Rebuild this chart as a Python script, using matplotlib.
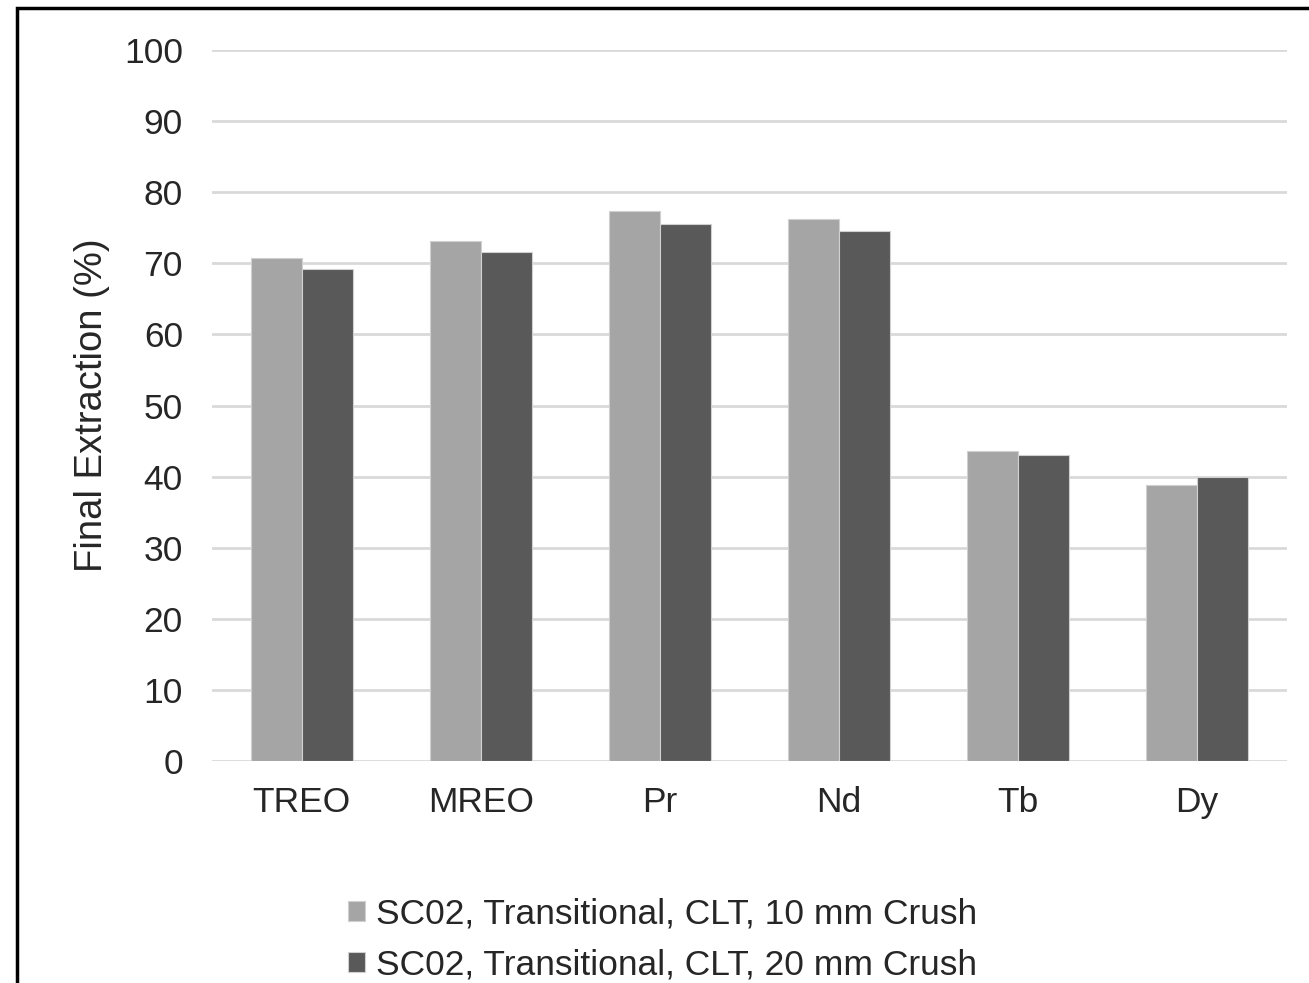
import matplotlib.pyplot as plt
import numpy as np
from matplotlib.patches import Rectangle

plt.rcParams['font.family'] = ['Liberation Sans', 'DejaVu Sans']

categories = ["TREO", "MREO", "Pr", "Nd", "Tb", "Dy"]
crush_10mm = [70.7, 73.2, 77.4, 76.3, 43.6, 38.8]
crush_20mm = [69.2, 71.6, 75.6, 74.5, 43.0, 39.9]
labels = ["SC02, Transitional, CLT, 10 mm Crush",
          "SC02, Transitional, CLT, 20 mm Crush"]

fig = plt.figure(figsize=(13.09, 9.83), dpi=100)
ax = fig.add_axes([0.162, 0.2258, 0.821, 0.7232])

x = np.arange(len(categories))
w = 0.285
ax.bar(x - w / 2, crush_10mm, w, color="#A5A5A5", edgecolor="#D0D0D0", linewidth=0.8,
       label=labels[0], zorder=3)
ax.bar(x + w / 2, crush_20mm, w, color="#595959", edgecolor="#D0D0D0", linewidth=0.8,
       label=labels[1], zorder=3)

ax.set_xlim(-0.5, len(categories) - 0.5)
ax.set_ylim(0, 100)
ax.set_yticks(range(0, 101, 10))
ax.set_xticks(x)
ax.set_xticklabels(categories)
ax.yaxis.grid(True, color="#D9D9D9", linewidth=2, zorder=0)
ax.tick_params(length=0, labelsize=25.5, colors="#262626")
ax.tick_params(axis="y", pad=21)
ax.tick_params(axis="x", pad=18)
for s in ax.spines.values():
    s.set_visible(False)

ax.set_ylabel("Final Extraction (%)", fontsize=27.5, color="#262626", labelpad=10)

fig.legend(loc="lower center", bbox_to_anchor=(0.506, -0.031), ncol=1, frameon=False,
           fontsize=25.5, handlelength=0.5, handleheight=0.5, handletextpad=0.3,
           labelspacing=0.5, labelcolor="#262626")

fig.patches.append(Rectangle((17 / 1309, -0.05), 1.1, 1 - 8 / 983 + 0.05,
                             transform=fig.transFigure, fill=False,
                             edgecolor="black", linewidth=2.5))

fig.savefig("out.png", dpi=100)
